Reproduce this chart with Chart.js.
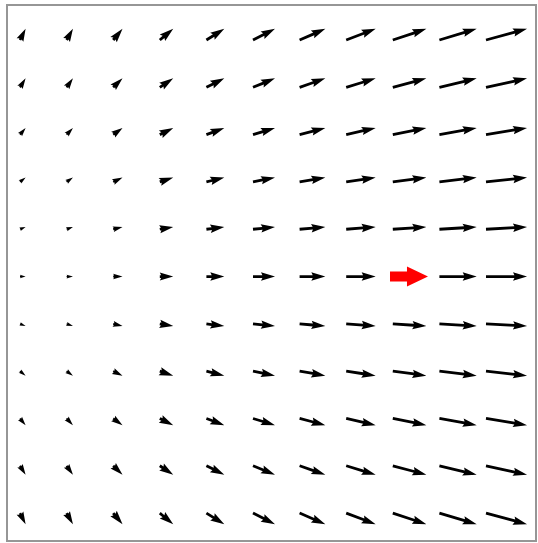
<!DOCTYPE html>
<html>
<head>
<meta charset="utf-8">
<script src="https://cdn.jsdelivr.net/npm/chart.js@4/dist/chart.umd.min.js"></script>
<style>
  html, body { margin: 0; padding: 0; background: #ffffff; }
  #wrap { width: 538px; height: 543px; position: relative; }
</style>
</head>
<body>
<div id="wrap"><canvas id="field"></canvas></div>
<script>
// Grid positions of the arrow tails
const gridX = [1, 2, 3, 4, 5, 6, 7, 8, 9, 10, 11];
const gridY = [5, 4, 3, 2, 1, 0, -1, -2, -3, -4, -5];

// Vector components: u depends on the column, v on the row
const uByColumn = [1.5, 1.7, 2.5, 3.6, 4.8, 5.9, 6.9, 7.9, 9, 10, 11];
const vByRow = [3, 2.4, 1.8, 1.2, 0.6, 0, -0.6, -1.2, -1.8, -2.4, -3];

// Highlighted arrow (tail position and length in data units)
const highlightX = [8.94];
const highlightY = [0];
const highlightDX = [0.815];

// Quiver styling (pixels)
const PX_PER_UNIT = 3.73;
const SHAFT = 2.8;
const HEAD_W = SHAFT * 3;
const HEAD_L = SHAFT * 5;
const HEAD_AXIS = SHAFT * 4.5;

const points = [];
gridY.forEach((y, r) => {
  gridX.forEach((x, c) => {
    points.push({ x: x, y: y, u: uByColumn[c], v: vByRow[r] });
  });
});

function quiverPolygon(L) {
  const hw = HEAD_W / 2, sw = SHAFT / 2;
  if (L >= HEAD_L) {
    return [[0, -sw], [L - HEAD_AXIS, -sw], [L - HEAD_L, -hw], [L, 0],
            [L - HEAD_L, hw], [L - HEAD_AXIS, sw], [0, sw]];
  }
  // short arrows keep the proportions of a minimum-length arrow
  const s = L / HEAD_L;
  const base = [[0, -sw], [HEAD_L - HEAD_AXIS, -sw], [0, -hw], [HEAD_L, 0],
                [0, hw], [HEAD_L - HEAD_AXIS, sw], [0, sw]];
  return base.map(p => [p[0] * s, p[1] * s]);
}

const quiverPlugin = {
  id: 'quiver',
  afterDatasetsDraw(chart) {
    const ctx = chart.ctx;
    const xs = chart.scales.x, ys = chart.scales.y;
    const area = chart.chartArea;

    ctx.save();
    ctx.fillStyle = '#000000';
    points.forEach(p => {
      const px = xs.getPixelForValue(p.x);
      const py = ys.getPixelForValue(p.y);
      const du = p.u * PX_PER_UNIT;
      const dv = -p.v * PX_PER_UNIT;
      const L = Math.hypot(du, dv);
      if (L === 0) return;
      const ang = Math.atan2(dv, du);
      const poly = quiverPolygon(L);
      ctx.save();
      ctx.translate(px, py);
      ctx.rotate(ang);
      ctx.beginPath();
      poly.forEach((q, i) => i ? ctx.lineTo(q[0], q[1]) : ctx.moveTo(q[0], q[1]));
      ctx.closePath();
      ctx.fill();
      ctx.restore();
    });

    // highlighted wide arrow
    ctx.fillStyle = '#ff0000';
    highlightX.forEach((hx, i) => {
      const x0 = xs.getPixelForValue(hx);
      const x1 = xs.getPixelForValue(hx + highlightDX[i]);
      const y0 = ys.getPixelForValue(highlightY[i]);
      const headL = 21, headHalf = 10, shaftHalf = 5;
      ctx.beginPath();
      ctx.moveTo(x0, y0 - shaftHalf);
      ctx.lineTo(x1 - headL, y0 - shaftHalf);
      ctx.lineTo(x1 - headL, y0 - headHalf);
      ctx.lineTo(x1, y0);
      ctx.lineTo(x1 - headL, y0 + headHalf);
      ctx.lineTo(x1 - headL, y0 + shaftHalf);
      ctx.lineTo(x0, y0 + shaftHalf);
      ctx.closePath();
      ctx.fill();
    });

    // frame
    ctx.strokeStyle = '#969696';
    ctx.lineWidth = 2;
    ctx.strokeRect(area.left, area.top, area.right - area.left, area.bottom - area.top);
    ctx.restore();
  }
};

new Chart(document.getElementById('field'), {
  type: 'scatter',
  data: {
    datasets: [{
      data: points.map(p => ({ x: p.x, y: p.y })),
      pointRadius: 0,
      pointHoverRadius: 0
    }]
  },
  options: {
    responsive: true,
    maintainAspectRatio: false,
    animation: false,
    devicePixelRatio: 1,
    layout: { padding: { left: 7, top: 5, right: 2, bottom: 2 } },
    plugins: { legend: { display: false }, tooltip: { enabled: false } },
    scales: {
      x: { type: 'linear', min: 0.721, max: 12.073, display: false },
      y: { type: 'linear', min: -5.59, max: 5.74, display: false }
    }
  },
  plugins: [quiverPlugin]
});
</script>
</body>
</html>
